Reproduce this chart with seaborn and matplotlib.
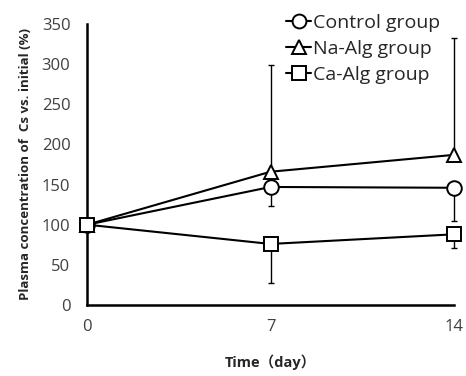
import pandas as pd
import matplotlib
matplotlib.use("Agg")
import matplotlib.pyplot as plt
import seaborn as sns

# data
days = [0, 7, 14]
groups = ["Control group", "Na-Alg group", "Ca-Alg group"]
control = [100, 147, 146]
na_alg = [100, 166, 187]
ca_alg = [100, 76, 88]

# one-sided error bars (lower, upper)
control_err_low = [0, 24, 41]
control_err_up = [0, 0, 0]
na_alg_err_low = [0, 0, 0]
na_alg_err_up = [0, 133, 146]
ca_alg_err_low = [0, 49, 17]
ca_alg_err_up = [0, 0, 0]

sns.set_style("white")
plt.rcParams["font.family"] = ["Open Sans", "DejaVu Sans", "Noto Sans CJK JP"]

df = pd.DataFrame({
    "day": days * 3,
    "value": control + na_alg + ca_alg,
    "group": [groups[0]] * 3 + [groups[1]] * 3 + [groups[2]] * 3,
})

fig = plt.figure(figsize=(4.66, 3.76), dpi=100)
ax = fig.add_axes([0.187, 0.189, 0.787, 0.747])

# error bars first so markers sit on top
errs = [(control, control_err_low, control_err_up),
        (na_alg, na_alg_err_low, na_alg_err_up),
        (ca_alg, ca_alg_err_low, ca_alg_err_up)]
for vals, lo, up in errs:
    ax.errorbar(days, vals, yerr=[lo, up], fmt="none", ecolor="black",
                elinewidth=1.0, capsize=2.5, capthick=1.0, zorder=1, clip_on=False)

sns.lineplot(data=df, x="day", y="value", hue="group", style="group",
             markers=["o", "^", "s"], dashes=False,
             palette=["black"] * 3, ax=ax, legend=False,
             linewidth=1.5, markersize=10.5, zorder=3, clip_on=False)

lines = [l for l in ax.lines if len(l.get_xdata()) == 3 and l.get_marker() in ("o", "^", "s")]
for l in lines:
    l.set_markerfacecolor("white")
    l.set_markeredgecolor("black")
    l.set_markeredgewidth(1.4)
    l.set_clip_on(False)
    if l.get_marker() == "s":
        l.set_zorder(4)

leg = ax.legend(lines, groups, loc="upper right", bbox_to_anchor=(1.0, 1.085),
                frameon=False, fontsize=14, handlelength=1.3, handletextpad=0.1,
                labelspacing=0.42, borderpad=0.2, markerscale=0.95)

ax.set_xlim(0, 14)
ax.set_ylim(0, 350)
ax.set_xticks(days)
ax.set_yticks(range(0, 351, 50))
ax.tick_params(axis="both", direction="out", length=4, width=1.5,
               labelsize=12, labelcolor="#404040", color="black")
ax.tick_params(axis="x", pad=6)
ax.tick_params(axis="y", pad=8)
for s in ["top", "right"]:
    ax.spines[s].set_visible(False)
for s in ["left", "bottom"]:
    ax.spines[s].set_linewidth(1.8)
    ax.spines[s].set_color("black")

ax.set_xlabel("Time（day）", fontsize=10.5, fontweight="bold", labelpad=14)
ax.set_ylabel("Plasma concentration of  Cs vs. initial (%)", fontsize=9.5,
              fontweight="bold", labelpad=7)

fig.savefig("out.png", dpi=100)
